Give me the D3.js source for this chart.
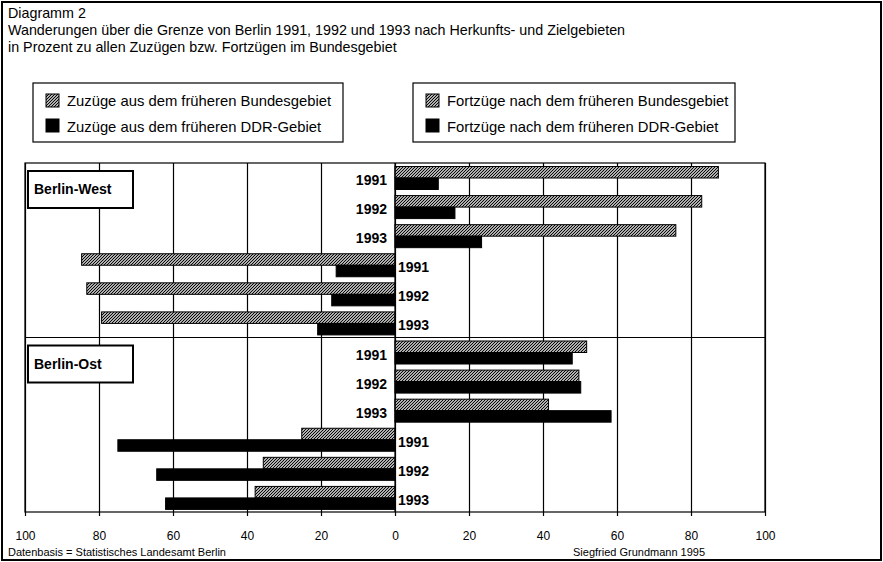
<!DOCTYPE html>
<html>
<head>
<meta charset="utf-8">
<script src="https://cdn.jsdelivr.net/npm/d3@7"></script>
<style>
  body { margin: 0; background: #fff; }
  text { font-family: "Liberation Sans", Arial, Helvetica, sans-serif; fill: #000; }
</style>
</head>
<body>
<div id="chart"></div>
<script>
// values (percent)
const years = ["1991", "1992", "1993"];
const regions = ["Berlin-West", "Berlin-Ost"];

// Fortzüge (right side)
const westFortBund = [87.4, 82.9, 75.9];
const westFortDDR = [11.7, 16.2, 23.4];
const ostFortBund = [51.8, 49.7, 41.5];
const ostFortDDR = [47.9, 50.2, 58.4];

// Zuzüge (left side)
const westZuBund = [84.7, 83.3, 79.3];
const westZuDDR = [15.9, 17.1, 20.9];
const ostZuBund = [25.2, 35.6, 37.8];
const ostZuDDR = [74.9, 64.4, 62.0];

const tickValues = [-100, -80, -60, -40, -20, 0, 20, 40, 60, 80, 100];

const titleLines = [
    "Diagramm 2",
    "Wanderungen über die Grenze von Berlin 1991, 1992 und 1993 nach Herkunfts- und Zielgebieten",
    "in Prozent zu allen Zuzügen bzw. Fortzügen im Bundesgebiet"
];
const legendLeft = ["Zuzüge aus dem früheren Bundesgebiet", "Zuzüge aus dem früheren DDR-Gebiet"];
const legendRight = ["Fortzüge nach dem früheren Bundesgebiet", "Fortzüge nach dem früheren DDR-Gebiet"];
const sourceText = "Datenbasis = Statistisches Landesamt Berlin";
const authorText = "Siegfried Grundmann 1995";

const width = 883, height = 562;
const plot = {left: 25, right: 765, top: 163, bottom: 512};

// build the rows: per region 3 rows Fortzüge, then 3 rows Zuzüge
let rows = [];
let fort = [[westFortBund, westFortDDR], [ostFortBund, ostFortDDR]];
let zu = [[westZuBund, westZuDDR], [ostZuBund, ostZuDDR]];
regions.forEach(function (r, ri) {
    years.forEach(function (y, i) {
        rows.push({id: r + "-f-" + y, region: r, year: y, side: 1,
            bund: fort[ri][0][i], ddr: fort[ri][1][i]});
    });
    years.forEach(function (y, i) {
        rows.push({id: r + "-z-" + y, region: r, year: y, side: -1,
            bund: zu[ri][0][i], ddr: zu[ri][1][i]});
    });
});

const svg = d3.select("#chart").append("svg")
    .attr("width", width)
    .attr("height", height);

// hatch pattern
const defs = svg.append("defs");
defs.append("pattern")
    .attr("id", "hatch")
    .attr("patternUnits", "userSpaceOnUse")
    .attr("width", 3).attr("height", 3)
    .call(p => p.append("rect").attr("width", 3).attr("height", 3).attr("fill", "#fff"))
    .call(p => p.append("path")
        .attr("d", "M-1,1 L1,-1 M0,3 L3,0 M2,4 L4,2")
        .attr("stroke", "#000")
        .attr("stroke-width", 1.2));

// outer frame
svg.append("rect")
    .attr("x", 2).attr("y", 2)
    .attr("width", 879).attr("height", 558)
    .attr("fill", "none")
    .attr("stroke", "#000")
    .attr("stroke-width", 2);

// title
svg.append("g").selectAll("text")
    .data(titleLines)
    .enter()
    .append("text")
    .attr("x", 8)
    .attr("y", (d, i) => 18 + i * 17)
    .attr("font-size", 14.3)
    .text(d => d);

// legends
function drawLegend(x0, w, labels) {
    let g = svg.append("g").attr("transform", "translate(" + x0 + ",83)");
    g.append("rect")
        .attr("width", w).attr("height", 59)
        .attr("fill", "#fff")
        .attr("stroke", "#000")
        .attr("stroke-width", 1.2);
    labels.forEach(function (l, i) {
        g.append("rect")
            .attr("x", 13).attr("y", 11 + i * 25)
            .attr("width", 13).attr("height", 13)
            .attr("fill", i === 0 ? "url(#hatch)" : "#000")
            .attr("stroke", "#000");
        g.append("text")
            .attr("x", 34).attr("y", 23 + i * 26)
            .attr("font-size", 14.8)
            .text(l);
    });
}
drawLegend(33, 310, legendLeft);
drawLegend(413, 322, legendRight);

// scales
const x = d3.scaleLinear()
    .domain([-100, 100])
    .range([plot.left, plot.right]);

const y = d3.scaleBand()
    .domain(rows.map(d => d.id))
    .range([plot.top, plot.bottom])
    .paddingInner(0);

const yInner = d3.scaleBand()
    .domain(["bund", "ddr"])
    .range([3.5, 26.5])
    .paddingInner(0);

// plot box
svg.append("rect")
    .attr("x", plot.left).attr("y", plot.top)
    .attr("width", plot.right - plot.left)
    .attr("height", plot.bottom - plot.top)
    .attr("fill", "#fff")
    .attr("stroke", "#000")
    .attr("stroke-width", 1.2);

// vertical grid + axis ticks
svg.append("g")
    .attr("transform", "translate(0," + plot.bottom + ")")
    .call(d3.axisBottom(x)
        .tickValues(tickValues)
        .tickSize(4)
        .tickFormat(d => Math.abs(d)))
    .call(g => g.select(".domain").remove())
    .call(g => g.selectAll(".tick line").attr("stroke", "#000").attr("stroke-width", 1.2))
    .call(g => g.selectAll(".tick line").clone()
        .attr("y2", -(plot.bottom - plot.top)))
    .call(g => g.selectAll(".tick text")
        .attr("y", 19)
        .attr("font-size", 12)
        .attr("font-family", "'Liberation Sans', Arial, sans-serif"));

// separator between the two regions
svg.append("line")
    .attr("x1", plot.left).attr("x2", plot.right)
    .attr("y1", y(rows[6].id)).attr("y2", y(rows[6].id))
    .attr("stroke", "#000")
    .attr("stroke-width", 1.2);

// bars
const bars = svg.append("g").attr("id", "bars");
rows.forEach(function (r) {
    ["bund", "ddr"].forEach(function (k) {
        let v = r[k] * r.side;
        bars.append("rect")
            .attr("x", Math.min(x(0), x(v)))
            .attr("y", y(r.id) + yInner(k))
            .attr("width", Math.abs(x(v) - x(0)))
            .attr("height", yInner.bandwidth())
            .attr("fill", k === "bund" ? "url(#hatch)" : "#000")
            .attr("stroke", "#000")
            .attr("stroke-width", 1);
    });
});

// zero line
svg.append("line")
    .attr("x1", x(0)).attr("x2", x(0))
    .attr("y1", plot.top).attr("y2", plot.bottom)
    .attr("stroke", "#000")
    .attr("stroke-width", 1.2);

// year labels
svg.append("g").selectAll("text")
    .data(rows)
    .enter()
    .append("text")
    .attr("x", d => d.side > 0 ? x(0) - 8 : x(0) + 3)
    .attr("y", d => y(d.id) + y.bandwidth() / 2 + 7.5)
    .attr("text-anchor", d => d.side > 0 ? "end" : "start")
    .attr("font-size", 14)
    .attr("font-weight", "bold")
    .text(d => d.year);

// region boxes
regions.forEach(function (r, i) {
    let top = y(rows[i * 6].id);
    let g = svg.append("g").attr("transform", "translate(28," + (top + 8) + ")");
    g.append("rect")
        .attr("width", 105).attr("height", 37)
        .attr("fill", "#fff")
        .attr("stroke", "#000")
        .attr("stroke-width", 2);
    g.append("text")
        .attr("x", 6).attr("y", 23)
        .attr("font-size", 14)
        .attr("font-weight", "bold")
        .text(r);
});

// footer
svg.append("text")
    .attr("x", 8).attr("y", 556)
    .attr("font-size", 11)
    .text(sourceText);
svg.append("text")
    .attr("x", 573).attr("y", 556)
    .attr("font-size", 11)
    .text(authorText);
</script>
</body>
</html>
